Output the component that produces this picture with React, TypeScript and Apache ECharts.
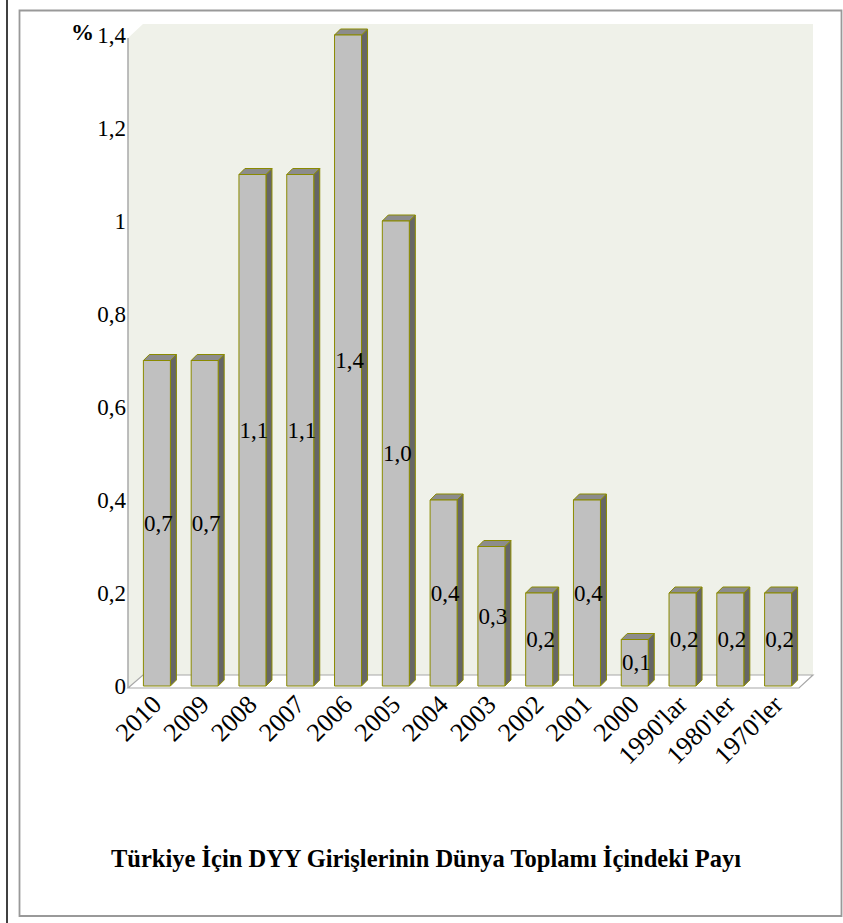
import React, { useEffect, useRef } from "react";
import * as echarts from "echarts";

const categories = ["2010", "2009", "2008", "2007", "2006", "2005", "2004", "2003", "2002", "2001", "2000", "1990'lar", "1980'ler", "1970'ler"];
const shareValues = [0.7, 0.7, 1.1, 1.1, 1.4, 1.0, 0.4, 0.3, 0.2, 0.4, 0.1, 0.2, 0.2, 0.2];
const titleText = "Türkiye İçin DYY Girişlerinin Dünya Toplamı İçindeki Payı";

const fmtAxis = (v: number) => String(+v.toFixed(1)).replace(".", ",");
const fmtLabel = (v: number) => v.toFixed(1).replace(".", ",");

export default function App() {
  const ref = useRef<HTMLDivElement>(null);
  useEffect(() => {
    if (!ref.current) return;
    const chart = echarts.init(ref.current, null, { renderer: "svg" });
    const serif = "'Liberation Serif', 'Times New Roman', serif";
    const dx = 6;
    const dy = -6;
    const bw = 27;
    chart.setOption({
      animation: false,
      backgroundColor: "#ffffff",
      grid: { left: 133, right: 41, top: 35, bottom: 237, containLabel: false },
      xAxis: {
        type: "category",
        data: categories,
        axisLine: { show: false },
        axisTick: { show: false },
        splitLine: { show: false },
        axisLabel: {
          interval: 0,
          rotate: 45,
          margin: 14,
          color: "#000",
          fontFamily: serif,
          fontSize: 26,
        },
      },
      yAxis: {
        type: "value",
        min: 0,
        max: 1.4,
        interval: 0.2,
        axisLine: { show: false },
        axisTick: { show: false },
        splitLine: { show: false },
        axisLabel: {
          margin: 7,
          color: "#000",
          fontFamily: serif,
          fontSize: 23,
          formatter: (v: number) => fmtAxis(v),
        },
      },
      graphic: [
        { type: "line", shape: { x1: 7, y1: 0, x2: 7, y2: 923 }, style: { stroke: "#000", lineWidth: 1.5 }, z: 0 },
        { type: "rect", shape: { x: 19.5, y: 10.5, width: 822, height: 905.5 }, style: { fill: "none", stroke: "#999", lineWidth: 1.8 }, z: 0 },
        {
          type: "polygon",
          shape: { points: [[128, 38], [143, 24], [813, 24], [813, 675], [143, 675], [128, 688]] },
          style: { fill: "#eff1e9", stroke: "none" },
          z: 0,
        },
        {
          type: "polygon",
          shape: { points: [[128, 688], [143, 675], [813, 675], [799, 688]] },
          style: { fill: "#ffffff", stroke: "#a8a8a8", lineWidth: 1.2 },
          z: 0,
        },
        { type: "line", shape: { x1: 128, y1: 38, x2: 128, y2: 688 }, style: { stroke: "#a8a8a8", lineWidth: 1.5 }, z: 1 },
        {
          type: "text",
          x: 71,
          y: 21,
          style: { text: "%", fill: "#000", font: `bold 23px ${serif}` },
          z: 5,
        },
        {
          type: "text",
          x: 426,
          y: 858,
          style: { text: titleText, fill: "#000", font: `bold 24.5px ${serif}`, textAlign: "center", textVerticalAlign: "middle" },
          z: 5,
        },
      ],
      series: [
        {
          type: "custom",
          data: shareValues.map((v, i) => [i, v]),
          z: 2,
          renderItem: (params: any, api: any) => {
            const xi = api.value(0);
            const v = api.value(1);
            const top = api.coord([xi, v]);
            const base = api.coord([xi, 0]);
            const left = top[0] - bw / 2;
            const t = top[1];
            const b = base[1];
            const edge = "#8a8a00";
            return {
              type: "group",
              children: [
                {
                  type: "polygon",
                  shape: { points: [[left + bw, t], [left + bw + dx, t + dy], [left + bw + dx, b + dy], [left + bw, b]] },
                  style: { fill: "#666666", stroke: edge, lineWidth: 1 },
                },
                {
                  type: "polygon",
                  shape: { points: [[left, t], [left + dx, t + dy], [left + bw + dx, t + dy], [left + bw, t]] },
                  style: { fill: "#8c8c8c", stroke: edge, lineWidth: 1 },
                },
                {
                  type: "rect",
                  shape: { x: left, y: t, width: bw, height: b - t },
                  style: { fill: "#c0c0c0", stroke: edge, lineWidth: 1 },
                },
                {
                  type: "text",
                  x: top[0] + 1.5,
                  y: (t + b) / 2,
                  style: {
                    text: fmtLabel(v),
                    fill: "#000",
                    font: `23px ${serif}`,
                    textAlign: "center",
                    textVerticalAlign: "middle",
                  },
                },
              ],
            };
          },
        },
      ],
    });
    return () => chart.dispose();
  }, []);
  return <div ref={ref} style={{ position: "absolute", left: 0, top: 0, width: 843, height: 923 }} />;
}
